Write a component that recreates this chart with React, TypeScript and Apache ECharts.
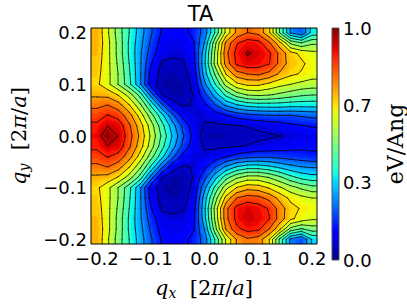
import React, { useEffect, useRef } from 'react';
import * as echarts from 'echarts';

// grid of q_x (columns) and q_y (rows, top to bottom)
const qx = [-0.2, -0.18, -0.16, -0.14, -0.12, -0.1, -0.08, -0.06, -0.04, -0.02, 0, 0.02, 0.04, 0.06, 0.08, 0.1, 0.12, 0.14, 0.16, 0.18, 0.2];
const qy = [0.2, 0.18, 0.16, 0.14, 0.12, 0.1, 0.08, 0.06, 0.04, 0.02, 0, -0.02, -0.04, -0.06, -0.08, -0.1, -0.12, -0.14, -0.16, -0.18, -0.2];

// field value (eV/Ang, normalised), rows follow qy
const z: number[][] = [
  [0.72, 0.61, 0.50, 0.40, 0.30, 0.21, 0.13, 0.11, 0.12, 0.15, 0.23, 0.41, 0.62, 0.75, 0.80, 0.78, 0.68, 0.46, 0.26, 0.21, 0.36],
  [0.72, 0.62, 0.51, 0.39, 0.29, 0.19, 0.11, 0.09, 0.10, 0.13, 0.27, 0.52, 0.75, 0.86, 0.90, 0.89, 0.81, 0.69, 0.52, 0.47, 0.52],
  [0.71, 0.62, 0.51, 0.39, 0.28, 0.17, 0.09, 0.08, 0.08, 0.12, 0.31, 0.55, 0.78, 0.89, 0.94, 0.92, 0.88, 0.78, 0.69, 0.65, 0.62],
  [0.70, 0.62, 0.52, 0.40, 0.28, 0.14, 0.06, 0.05, 0.06, 0.11, 0.32, 0.56, 0.76, 0.88, 0.91, 0.90, 0.87, 0.78, 0.70, 0.68, 0.64],
  [0.69, 0.62, 0.53, 0.41, 0.28, 0.11, 0.05, 0.04, 0.05, 0.09, 0.30, 0.48, 0.67, 0.77, 0.80, 0.81, 0.78, 0.72, 0.68, 0.66, 0.63],
  [0.68, 0.62, 0.53, 0.42, 0.28, 0.10, 0.04, 0.02, 0.04, 0.08, 0.25, 0.40, 0.56, 0.65, 0.68, 0.68, 0.65, 0.62, 0.60, 0.58, 0.57],
  [0.72, 0.71, 0.66, 0.57, 0.44, 0.24, 0.07, 0.04, 0.04, 0.07, 0.18, 0.30, 0.42, 0.50, 0.54, 0.55, 0.54, 0.52, 0.50, 0.48, 0.47],
  [0.78, 0.80, 0.76, 0.67, 0.55, 0.39, 0.22, 0.09, 0.06, 0.07, 0.12, 0.20, 0.28, 0.33, 0.36, 0.37, 0.37, 0.37, 0.36, 0.36, 0.36],
  [0.84, 0.87, 0.84, 0.76, 0.64, 0.50, 0.36, 0.22, 0.11, 0.08, 0.08, 0.10, 0.13, 0.16, 0.18, 0.19, 0.20, 0.20, 0.20, 0.21, 0.22],
  [0.88, 0.93, 0.91, 0.81, 0.70, 0.57, 0.43, 0.30, 0.18, 0.10, 0.06, 0.055, 0.06, 0.065, 0.07, 0.08, 0.09, 0.10, 0.12, 0.13, 0.14],
  [0.90, 0.99, 0.93, 0.83, 0.72, 0.59, 0.46, 0.33, 0.21, 0.11, 0.04, 0.035, 0.04, 0.045, 0.05, 0.055, 0.06, 0.065, 0.075, 0.085, 0.10],
  [0.88, 0.93, 0.91, 0.81, 0.70, 0.57, 0.43, 0.30, 0.18, 0.10, 0.06, 0.055, 0.06, 0.065, 0.07, 0.08, 0.09, 0.10, 0.11, 0.12, 0.12],
  [0.84, 0.87, 0.84, 0.76, 0.64, 0.50, 0.36, 0.22, 0.11, 0.08, 0.08, 0.10, 0.13, 0.16, 0.18, 0.19, 0.19, 0.18, 0.17, 0.16, 0.15],
  [0.78, 0.80, 0.76, 0.67, 0.55, 0.39, 0.22, 0.09, 0.06, 0.07, 0.12, 0.20, 0.28, 0.34, 0.37, 0.37, 0.35, 0.32, 0.29, 0.27, 0.26],
  [0.72, 0.71, 0.66, 0.57, 0.44, 0.24, 0.07, 0.04, 0.04, 0.07, 0.18, 0.31, 0.44, 0.52, 0.56, 0.56, 0.53, 0.48, 0.42, 0.38, 0.36],
  [0.68, 0.62, 0.53, 0.42, 0.28, 0.10, 0.04, 0.02, 0.04, 0.08, 0.25, 0.42, 0.58, 0.67, 0.71, 0.70, 0.66, 0.61, 0.56, 0.52, 0.49],
  [0.69, 0.62, 0.53, 0.41, 0.28, 0.11, 0.05, 0.04, 0.05, 0.09, 0.30, 0.50, 0.69, 0.80, 0.83, 0.82, 0.78, 0.71, 0.65, 0.62, 0.60],
  [0.70, 0.62, 0.52, 0.40, 0.28, 0.14, 0.06, 0.05, 0.06, 0.11, 0.32, 0.56, 0.78, 0.89, 0.92, 0.90, 0.86, 0.77, 0.69, 0.66, 0.64],
  [0.71, 0.62, 0.51, 0.39, 0.28, 0.17, 0.09, 0.08, 0.08, 0.12, 0.31, 0.55, 0.78, 0.89, 0.93, 0.91, 0.87, 0.77, 0.68, 0.64, 0.61],
  [0.72, 0.62, 0.51, 0.39, 0.29, 0.19, 0.11, 0.09, 0.10, 0.13, 0.27, 0.51, 0.74, 0.85, 0.89, 0.88, 0.80, 0.68, 0.51, 0.46, 0.50],
  [0.72, 0.61, 0.50, 0.40, 0.30, 0.21, 0.13, 0.11, 0.12, 0.15, 0.23, 0.41, 0.61, 0.74, 0.79, 0.77, 0.67, 0.45, 0.25, 0.20, 0.34],
];

const contourLevels = [0.0667, 0.1333, 0.2, 0.2667, 0.3333, 0.4, 0.4667, 0.5333, 0.6, 0.6667, 0.7333, 0.8, 0.8667, 0.9333];
const xTicks = [-0.2, -0.1, 0, 0.1, 0.2];
const yTicks = [-0.2, -0.1, 0, 0.1, 0.2];

const X_MIN = -0.211;
const X_MAX = 0.209;
const Y_MIN = -0.209;
const Y_MAX = 0.209;

// matplotlib "jet" colormap definition
const JET_R = [[0, 0], [0.35, 0], [0.66, 1], [0.89, 1], [1, 0.5]];
const JET_G = [[0, 0], [0.125, 0], [0.375, 1], [0.64, 1], [0.91, 0], [1, 0]];
const JET_B = [[0, 0.5], [0.11, 1], [0.34, 1], [0.65, 0], [1, 0]];
function seg(pts: number[][], t: number) {
  for (let k = 0; k < pts.length - 1; k++) {
    const [a, va] = pts[k];
    const [b, vb] = pts[k + 1];
    if (t >= a && t <= b) return va + ((t - a) / (b - a)) * (vb - va);
  }
  return pts[pts.length - 1][1];
}
function jet(t: number) {
  const tt = Math.max(0, Math.min(1, t));
  const c = (v: number) => Math.round(v * 255);
  return `rgb(${c(seg(JET_R, tt))},${c(seg(JET_G, tt))},${c(seg(JET_B, tt))})`;
}
const jetStops: string[] = [];
for (let k = 0; k <= 32; k++) jetStops.push(jet(k / 32));

function fmt(v: number) {
  const s = Math.abs(v).toFixed(1);
  return (v < -1e-9 ? '\u2212' : '') + s;
}

// the grid with its outer values carried out to the frame of the plot
function framedGrid() {
  const xs = [X_MIN, ...qx, X_MAX];
  const ys = [Y_MAX, ...qy, Y_MIN];
  const rows = z.map((row) => [row[0], ...row, row[row.length - 1]]);
  const zz = [rows[0], ...rows, rows[rows.length - 1]];
  return { xs, ys, zz };
}

// marching squares -> contour line segments in data space
function contourSegments(): number[][] {
  const { xs, ys, zz } = framedGrid();
  const out: number[][] = [];
  for (const lv of contourLevels) {
    for (let r = 0; r < ys.length - 1; r++) {
      for (let c = 0; c < xs.length - 1; c++) {
        const P = [
          [xs[c], ys[r], zz[r][c]],
          [xs[c + 1], ys[r], zz[r][c + 1]],
          [xs[c + 1], ys[r + 1], zz[r + 1][c + 1]],
          [xs[c], ys[r + 1], zz[r + 1][c]],
        ];
        const above = P.map((p) => p[2] >= lv);
        const cross: (number[] | null)[] = [];
        for (let e = 0; e < 4; e++) {
          const a = P[e];
          const b = P[(e + 1) % 4];
          if (above[e] !== above[(e + 1) % 4]) {
            const t = (lv - a[2]) / (b[2] - a[2]);
            cross.push([a[0] + t * (b[0] - a[0]), a[1] + t * (b[1] - a[1])]);
          } else cross.push(null);
        }
        const idx = [0, 1, 2, 3].filter((e) => cross[e]);
        if (idx.length === 2) {
          const p = cross[idx[0]]!;
          const q = cross[idx[1]]!;
          out.push([p[0], p[1], q[0], q[1]]);
        } else if (idx.length === 4) {
          const center = (P[0][2] + P[1][2] + P[2][2] + P[3][2]) / 4;
          const pairs = (center >= lv) === above[0] ? [[0, 1], [2, 3]] : [[3, 0], [1, 2]];
          for (const [a, b] of pairs) {
            const p = cross[a]!;
            const q = cross[b]!;
            out.push([p[0], p[1], q[0], q[1]]);
          }
        }
      }
    }
  }
  return out;
}

// quads of the grid: [xL, yT, xR, yB, vTL, vTR, vBR, vBL]
function quads(): number[][] {
  const { xs, ys, zz } = framedGrid();
  const out: number[][] = [];
  for (let r = 0; r < ys.length - 1; r++)
    for (let c = 0; c < xs.length - 1; c++)
      out.push([xs[c], ys[r], xs[c + 1], ys[r + 1], zz[r][c], zz[r][c + 1], zz[r + 1][c + 1], zz[r + 1][c]]);
  return out;
}

const NB = 48; // number of colour bands of the filled contour
function clipPoly(poly: number[][], lv: number, keepAbove: boolean) {
  const out: number[][] = [];
  for (let i = 0; i < poly.length; i++) {
    const a = poly[i];
    const b = poly[(i + 1) % poly.length];
    const ina = keepAbove ? a[2] >= lv : a[2] <= lv;
    const inb = keepAbove ? b[2] >= lv : b[2] <= lv;
    if (ina) out.push(a);
    if (ina !== inb) {
      const t = (lv - a[2]) / (b[2] - a[2]);
      out.push([a[0] + t * (b[0] - a[0]), a[1] + t * (b[1] - a[1]), lv]);
    }
  }
  return out;
}

const mathRich = {
  i: { fontFamily: 'DejaVu Serif', fontStyle: 'italic', fontSize: 21, color: '#000' },
  s: { fontFamily: 'DejaVu Serif', fontStyle: 'italic', fontSize: 14, color: '#000', padding: [11, 0, 0, 0] },
  r: { fontFamily: 'DejaVu Serif', fontSize: 21, color: '#000' },
};

export default function App() {
  const ref = useRef<HTMLDivElement>(null);
  useEffect(() => {
    const chart = echarts.init(ref.current!, undefined, { renderer: 'svg' });
    const segs = contourSegments();
    const cells = quads();
    const gradStops = jetStops.map((col, k) => ({ offset: k / (jetStops.length - 1), color: col }));

    chart.setOption({
      animation: false,
      backgroundColor: '#fff',
      grid: [
        { left: 84, top: 28, width: 233, height: 232, show: false },
        { left: 332, top: 28, width: 11, height: 232, show: false },
      ],
      xAxis: [
        {
          gridIndex: 0, type: 'value', min: X_MIN, max: X_MAX,
          axisLine: { show: false }, axisTick: { show: false }, splitLine: { show: false },
          axisLabel: { customValues: xTicks, formatter: fmt, fontFamily: 'DejaVu Sans', fontSize: 18, color: '#000', margin: 5 },
          name: '{i|q}{s|x}{r|  [2}{i|π}{r|/}{i|a}{r|]}', nameLocation: 'middle', nameGap: 31,
          nameTextStyle: { rich: mathRich },
        },
        { gridIndex: 1, type: 'value', min: 0, max: 1, show: false },
      ],
      yAxis: [
        {
          gridIndex: 0, type: 'value', min: Y_MIN, max: Y_MAX,
          axisLine: { show: false }, axisTick: { show: false }, splitLine: { show: false },
          axisLabel: { customValues: yTicks, formatter: fmt, fontFamily: 'DejaVu Sans', fontSize: 18, color: '#000', margin: 4 },
          name: '{i|q}{s|y}{r|  [2}{i|π}{r|/}{i|a}{r|]}', nameLocation: 'middle', nameGap: 60, nameRotate: 90,
          nameTextStyle: { rich: mathRich },
        },
        {
          gridIndex: 1, type: 'value', min: 0, max: 1, position: 'right', interval: 1 / 3,
          axisLine: { show: false }, axisTick: { show: false }, splitLine: { show: false },
          axisLabel: { formatter: (v: number) => v.toFixed(1), fontFamily: 'DejaVu Sans', fontSize: 18, color: '#000', margin: 4 },
          name: 'eV/Ang', nameLocation: 'middle', nameGap: 45, nameRotate: 90,
          nameTextStyle: { fontFamily: 'DejaVu Serif', fontSize: 22, color: '#000' },
        },
      ],
      graphic: [
        {
          type: 'text', x: 200.5, y: 3, z: 100,
          style: { text: 'TA', fontFamily: 'DejaVu Sans', fontSize: 21, fill: '#000', align: 'center', verticalAlign: 'top' },
        },
      ],
      series: [
        {
          // filled contour of the grid
          type: 'custom', xAxisIndex: 0, yAxisIndex: 0, clip: true, data: cells,
          encode: { x: [0, 2], y: [1, 3] },
          renderItem: (params: any, api: any) => {
            const xl = api.value(0), yt = api.value(1), xr = api.value(2), yb = api.value(3);
            const tl = api.coord([xl, yt]);
            const tr = api.coord([xr, yt]);
            const br = api.coord([xr, yb]);
            const bl = api.coord([xl, yb]);
            const vTL = api.value(4), vTR = api.value(5), vBR = api.value(6), vBL = api.value(7);
            const tris = [
              [[tl[0], tl[1], vTL], [tr[0], tr[1], vTR], [br[0], br[1], vBR]],
              [[tl[0], tl[1], vTL], [br[0], br[1], vBR], [bl[0], bl[1], vBL]],
            ];
            const children: any[] = [];
            for (const tri of tris) {
              const vs = tri.map((p) => p[2]);
              const lo = Math.min(...vs), hi = Math.max(...vs);
              const k0 = Math.max(0, Math.floor(lo * NB));
              const k1 = Math.min(NB - 1, Math.floor(hi * NB));
              for (let k = k0; k <= k1; k++) {
                let poly = tri;
                if (k > 0) poly = clipPoly(poly, k / NB, true);
                if (poly.length >= 3 && k < NB - 1) poly = clipPoly(poly, (k + 1) / NB, false);
                if (poly.length < 3) continue;
                const col = jet((k + 0.5) / NB);
                children.push({
                  type: 'polygon',
                  shape: { points: poly.map((p) => [p[0], p[1]]) },
                  style: { fill: col, stroke: col, lineWidth: 1, lineJoin: 'round' },
                });
              }
            }
            return { type: 'group', children };
          },
        },
        {
          type: 'custom', xAxisIndex: 0, yAxisIndex: 0, clip: true, data: segs, z: 5,
          encode: { x: [0, 2], y: [1, 3] },
          renderItem: (params: any, api: any) => {
            const p1 = api.coord([api.value(0), api.value(1)]);
            const p2 = api.coord([api.value(2), api.value(3)]);
            return {
              type: 'line',
              shape: { x1: p1[0], y1: p1[1], x2: p2[0], y2: p2[1] },
              style: { stroke: '#000', lineWidth: 0.9, lineCap: 'round', opacity: 0.85 },
            };
          },
        },
        {
          type: 'custom', xAxisIndex: 1, yAxisIndex: 1, data: [[0, 0, 1, 1]],
          encode: { x: [0, 2], y: [1, 3] },
          renderItem: (params: any, api: any) => {
            const p1 = api.coord([0, 1]);
            const p2 = api.coord([1, 0]);
            return {
              type: 'rect',
              shape: { x: p1[0], y: p1[1], width: p2[0] - p1[0], height: p2[1] - p1[1] },
              style: {
                fill: new echarts.graphic.LinearGradient(0, 1, 0, 0, gradStops),
                stroke: '#555', lineWidth: 1,
              },
            };
          },
        },
        {
          type: 'custom', xAxisIndex: 0, yAxisIndex: 0, data: [[0, 0]], z: 10,
          encode: { x: 0, y: 1 },
          renderItem: (params: any, api: any) => {
            const cs = params.coordSys;
            return {
              type: 'rect',
              shape: { x: cs.x, y: cs.y, width: cs.width, height: cs.height },
              style: { fill: 'none', stroke: '#000', lineWidth: 1 },
            };
          },
        },
      ],
    });
    return () => chart.dispose();
  }, []);
  return <div ref={ref} style={{ position: 'fixed', left: 0, top: 0, width: 407, height: 305, background: '#fff' }} />;
}
